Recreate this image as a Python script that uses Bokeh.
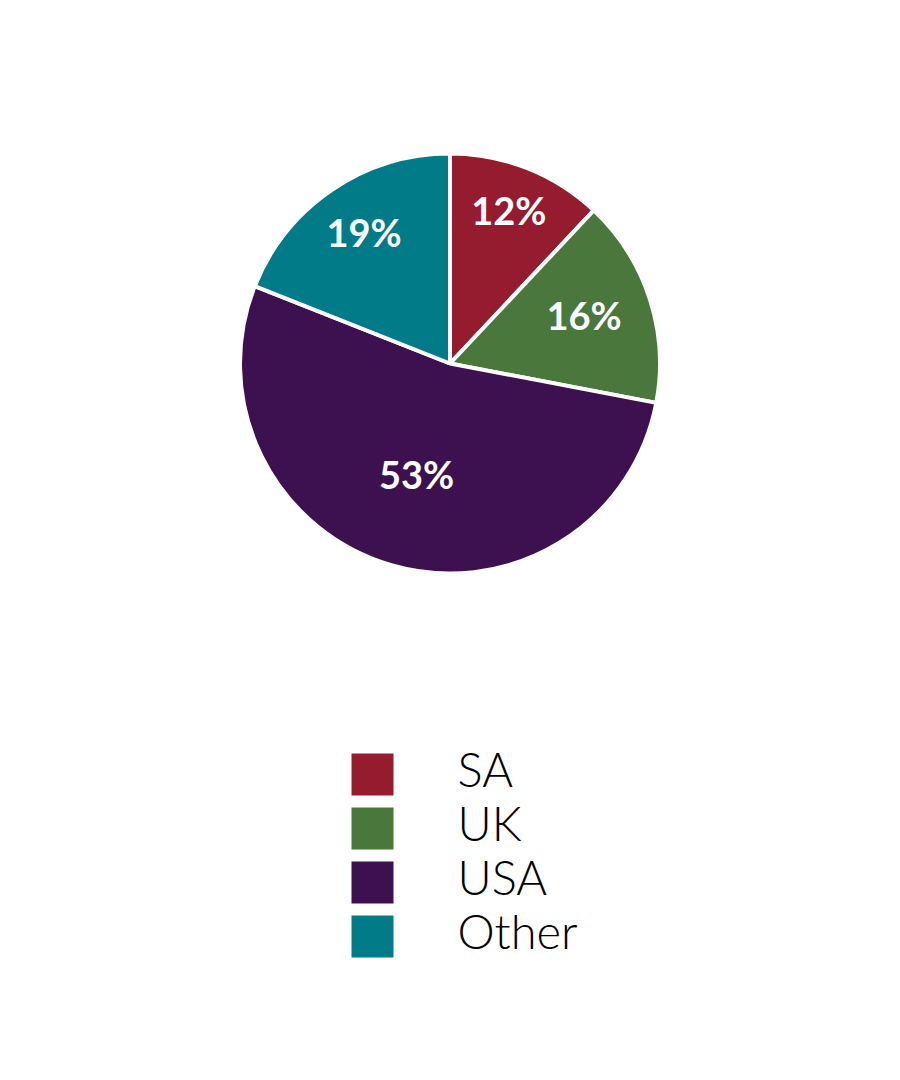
import math
from bokeh.plotting import figure
from bokeh.models import Range1d, ColumnDataSource
from bokeh.core.properties import value
from bokeh.embed import file_html
from bokeh.resources import INLINE

# ---- data ----
categories = ["SA", "UK", "USA", "Other"]
shares = [12, 16, 53, 19]
colors = ["#951B2F", "#4A773C", "#3D1150", "#007B87"]
pct_labels = ["12%", "16%", "53%", "19%"]

# ---- style ----
W, H = 884, 1064
cx, cy, R = 449.5, 1080 - 363, 210
label_r = [160, 141, 120, 153]
label_dy = 5

p = figure(width=W, height=H, output_backend="svg", toolbar_location=None,
           x_range=Range1d(0, W), y_range=Range1d(1080 - H, 1080),
           min_border=0, outline_line_color=None)
p.axis.visible = False
p.grid.visible = False
p.background_fill_color = "white"
p.border_fill_color = "white"

total = sum(shares)
starts, ends, lx, ly = [], [], [], []
acc = 0.0
for s, lr in zip(shares, label_r):
    a0 = math.pi / 2 - 2 * math.pi * acc / total
    a1 = math.pi / 2 - 2 * math.pi * (acc + s) / total
    starts.append(a0)
    ends.append(a1)
    mid = (a0 + a1) / 2
    lx.append(cx + lr * math.cos(mid))
    ly.append(cy + lr * math.sin(mid) + label_dy)
    acc += s

src = ColumnDataSource(dict(start=starts, end=ends, color=colors,
                            lx=lx, ly=ly, lab=pct_labels))
p.wedge(x=cx, y=cy, radius=R, start_angle="start", end_angle="end",
        direction="clock", fill_color="color", line_color="white",
        line_width=4, source=src)
p.text(x="lx", y="ly", text="lab", source=src, text_color="white",
       text_font=value("Lato"), text_font_style="bold", text_font_size="38px",
       text_align="center", text_baseline="middle")

# legend
lgx = [372] * len(categories)
lgy = [1080 - (774 + 54 * i) for i in range(len(categories))]
tgy = [1080 - (768 + 54 * i) for i in range(len(categories))]
lsrc = ColumnDataSource(dict(x=lgx, y=lgy, ty=tgy, color=colors, lab=categories))
p.rect(x="x", y="y", width=42, height=42, fill_color="color", line_color=None, source=lsrc)
p.text(x=457, y="ty", text="lab", source=lsrc, text_color="black",
       text_font=value("Lato Light"), text_font_size="47px",
       text_align="left", text_baseline="alphabetic")

open("out.html", "w").write(file_html(p, INLINE))
